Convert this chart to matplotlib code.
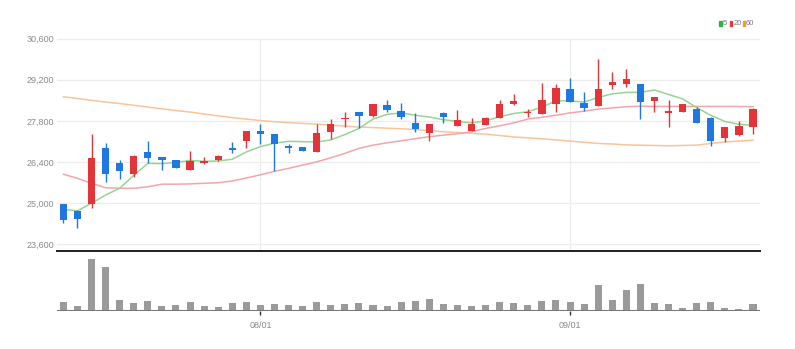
import matplotlib
matplotlib.use('Agg')
import matplotlib.pyplot as plt
from matplotlib.patches import Rectangle
import numpy as np
import pandas as pd

plt.rcParams['font.family'] = ['Liberation Sans Narrow', 'Liberation Sans', 'DejaVu Sans']

# trading days (KRX, 2023-07-12 .. 2023-09-20, Aug 15 closed)
dates = pd.bdate_range('2023-07-12', '2023-09-20')
dates = dates[dates != pd.Timestamp('2023-08-15')]

open_ = [24960, 24720, 24960, 26870, 26360, 25980, 26730, 26550, 26470, 26140,
         26360, 26460, 26890, 27110, 27460, 27350, 26940, 26920, 26740, 27420,
         27870, 28110, 27970, 28330, 28140, 27710, 27380, 28050, 27610, 27460,
         27660, 27910, 28370, 28050, 28020, 28370, 28900, 28410, 28310, 29030,
         29060, 29060, 28470, 28050, 28110, 28220, 27880, 27220, 27310, 27600]
high = [24970, 24760, 27340, 27050, 26460, 26620, 27100, 26550, 26480, 26780,
        26570, 26640, 27080, 27460, 27700, 27350, 27020, 26920, 27680, 27870,
        28090, 28110, 28360, 28500, 28410, 28050, 27690, 28090, 28160, 27880,
        27940, 28500, 28730, 28220, 29090, 29040, 29260, 28790, 29900, 29450,
        29560, 29060, 28620, 28500, 28360, 28280, 27920, 27600, 27790, 28230]
low = [24330, 24160, 24820, 25720, 25800, 25890, 26350, 26140, 26190, 26140,
       26330, 26440, 26720, 26880, 27010, 26090, 26710, 26770, 26740, 27170,
       27580, 27560, 27920, 28110, 27850, 27420, 27120, 27710, 27610, 27450,
       27660, 27910, 28330, 27920, 28020, 28090, 28430, 28130, 28310, 28880,
       28940, 27860, 28110, 27600, 28100, 27710, 26950, 27080, 27280, 27350]
close = [24420, 24460, 26530, 25980, 26100, 26610, 26540, 26470, 26200, 26440,
         26430, 26610, 26790, 27460, 27340, 27020, 26880, 26780, 27370, 27700,
         27900, 27970, 28360, 28160, 27940, 27520, 27690, 27920, 27820, 27690,
         27880, 28390, 28460, 28110, 28500, 28920, 28430, 28240, 28880, 29110,
         29210, 28430, 28620, 28130, 28360, 27710, 27110, 27600, 27630, 28220]
volume = [176000, 104000, 1040000, 880000, 216000, 150000, 200000, 90000, 110000, 176000,
          90000, 70000, 150000, 176000, 124000, 144000, 124000, 90000, 170000, 124000,
          144000, 150000, 124000, 90000, 184000, 204000, 236000, 144000, 116000, 90000,
          110000, 184000, 150000, 124000, 204000, 216000, 176000, 144000, 524000, 216000,
          424000, 530000, 150000, 144000, 56000, 150000, 176000, 56000, 44000, 144000]

ma5 = [24780, 24730, 24990, 25270, 25500, 25940, 26350, 26340, 26380, 26450,
       26420, 26430, 26490, 26740, 26920, 27040, 27100, 27090, 27080, 27150,
       27330, 27540, 27860, 28020, 28070, 27990, 27930, 27840, 27780, 27730,
       27800, 27940, 28050, 28110, 28270, 28480, 28480, 28440, 28600, 28720,
       28770, 28770, 28850, 28700, 28550, 28250, 27990, 27780, 27680, 27650]
ma20 = [25980, 25840, 25670, 25520, 25500, 25500, 25550, 25640, 25640, 25650,
        25670, 25690, 25750, 25850, 25960, 26080, 26180, 26290, 26400, 26540,
        26690, 26860, 26970, 27050, 27120, 27190, 27260, 27310, 27360, 27430,
        27540, 27630, 27730, 27860, 27920, 27990, 28070, 28130, 28200, 28240,
        28280, 28300, 28290, 28290, 28290, 28290, 28290, 28290, 28290, 28280]
ma60 = [28620, 28560, 28500, 28440, 28390, 28330, 28270, 28210, 28150, 28100,
        28030, 27970, 27910, 27860, 27810, 27770, 27740, 27710, 27690, 27650,
        27620, 27590, 27570, 27550, 27530, 27500, 27470, 27430, 27400, 27370,
        27350, 27300, 27250, 27220, 27190, 27150, 27110, 27070, 27030, 27010,
        26980, 26970, 26960, 26950, 26960, 26970, 27030, 27080, 27110, 27140]

ma_names = ['5', '20', '60']
ma_line_colors = ['#96d492', '#f4a4ab', '#f8c49c']
ma_key_colors = ['#2fb344', '#e8383d', '#f39a2c']
up_color = '#e3343a'
down_color = '#1f78e2'

x = np.arange(len(close))
o = np.array(open_)
c = np.array(close)
colors = np.where(c >= o, up_color, down_color)

fig = plt.figure(figsize=(7.95, 3.49), dpi=100)
ax = fig.add_axes([0.0721, 0.2808, 0.8839, 0.6083])
axv = fig.add_axes([0.0721, 0.1089, 0.8839, 0.1662], sharex=ax)

# price panel
month_starts = [i for i in range(1, len(dates)) if dates[i].month != dates[i - 1].month]
for i in month_starts:
    ax.axvline(i, color='#ececec', lw=0.9, zorder=0)
ax.grid(axis='y', color='#ececec', lw=0.9)
ax.set_axisbelow(True)

for vals, col in zip([ma60, ma20, ma5], ma_line_colors[::-1]):
    ax.plot(x, vals, color=col, lw=1.1, zorder=2)

ax.vlines(x, low, high, colors=colors, lw=1.0, zorder=3)
body = np.maximum(np.abs(c - o), 30)
ax.bar(x, body, bottom=np.minimum(o, c), width=0.52, color=colors, zorder=4)

ax.set_xlim(-0.43, 49.5)
ax.set_ylim(23362, 30600)
ax.set_yticks(np.arange(23600, 30601, 1400))
ax.set_yticklabels([f'{v:,}' for v in range(23600, 30601, 1400)])
ax.tick_params(axis='y', length=0, pad=2, labelsize=6.5, labelcolor='#8a8a8a')
ax.tick_params(axis='x', length=0, labelbottom=False)
for s in ['top', 'right', 'left']:
    ax.spines[s].set_visible(False)
ax.spines['bottom'].set_color('#1e1e1e')
ax.spines['bottom'].set_linewidth(1.4)

# volume panel
axv.bar(x, volume, width=0.5, color='#9a9a9a', zorder=2)
axv.axhline(0, color='#777777', lw=2.2, zorder=3)
axv.set_ylim(0, 1160000)
axv.set_yticks([])
axv.set_xticks(month_starts)
axv.set_xticklabels([dates[i].strftime('%m/%d') for i in month_starts])
axv.tick_params(axis='x', length=3, width=1, color='#333333', pad=4,
                labelsize=6.5, labelcolor='#8a8a8a')
for s in axv.spines.values():
    s.set_visible(False)

# legend keys
key_x = [719, 729.5, 742.5]
for kx, name, col in zip(key_x, ma_names, ma_key_colors):
    fig.patches.append(Rectangle((kx / 795, (349 - 26) / 349), 2.6 / 795, 5.3 / 349,
                                 transform=fig.transFigure, color=col))
    fig.text((kx + 3.6) / 795, (349 - 23.3) / 349, name, fontsize=5.5,
             color='#777777', va='center', ha='left')

fig.savefig('out.png', dpi=100, facecolor='white')
